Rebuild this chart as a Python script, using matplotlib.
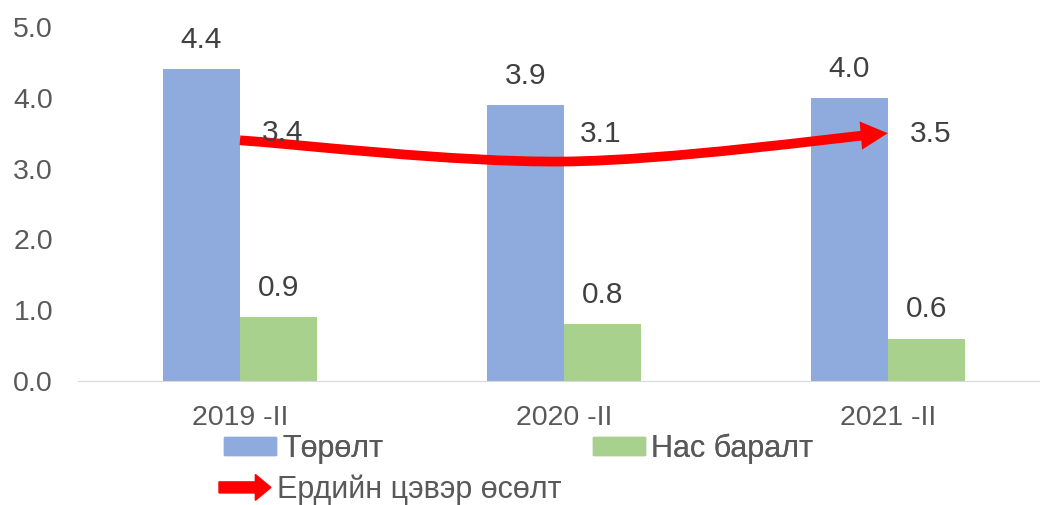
import numpy as np
import matplotlib.pyplot as plt
import matplotlib.patches as mpatches
from matplotlib.path import Path
from matplotlib.legend_handler import HandlerPatch

plt.rcParams['font.family'] = ['Liberation Sans', 'DejaVu Sans']

# Data -----------------------------------------------------------------
categories = ['2019 -II', '2020 -II', '2021 -II']
births = [4.4, 3.9, 4.0]
deaths = [0.9, 0.8, 0.6]
net_growth = [3.4, 3.1, 3.5]

lbl_births = 'Төрөлт'
lbl_deaths = 'Нас баралт'
lbl_growth = 'Ердийн цэвэр өсөлт'

c_blue = '#8FAADC'
c_green = '#A9D18E'
c_red = '#FF0000'
c_text = '#404040'
c_tick = '#595959'

fig = plt.figure(figsize=(10.4, 5.05), dpi=100)
ax = fig.add_axes([0.075, 0.2455, 0.925, 0.701])

x = np.arange(len(categories))
w = 0.238
b1 = ax.bar(x - w / 2, births, w, color=c_blue)
b2 = ax.bar(x + w / 2, deaths, w, color=c_green)
ax.bar_label(b1, fmt='%.1f', padding=11, fontsize=21.5, color=c_text)
ax.bar_label(b2, fmt='%.1f', padding=11, fontsize=21.5, color=c_text)

# smoothed line (Catmull-Rom -> cubic bezier) with arrow head
pts = np.column_stack([x, net_growth]).astype(float)
verts = [pts[0]]
codes = [Path.MOVETO]
for i in range(len(pts) - 1):
    p_prev = pts[max(i - 1, 0)]
    p_next2 = pts[min(i + 2, len(pts) - 1)]
    c1 = pts[i] + (pts[i + 1] - p_prev) / 6
    c2 = pts[i + 1] - (p_next2 - pts[i]) / 6
    verts += [c1, c2, pts[i + 1]]
    codes += [Path.CURVE4] * 3
arrow = mpatches.FancyArrowPatch(path=Path(verts, codes),
                                 arrowstyle='-|>,head_length=0.42,head_width=0.22',
                                 mutation_scale=20, lw=7, color=c_red,
                                 capstyle='butt', joinstyle='miter', zorder=3)
ax.add_patch(arrow)

# line labels (offsets in points)
offsets = [(16, 5.5), (11.5, 20), (16, -0.5)]
for xi, yi, off in zip(x, net_growth, offsets):
    ax.annotate(f'{yi:.1f}', (xi, yi), xytext=off, textcoords='offset points',
                ha='left', va='center', fontsize=21.5, color=c_text, zorder=4)

ax.set_xlim(-0.5, 2.47)
ax.set_ylim(0, 5)
ax.set_xticks(x)
ax.set_xticklabels(categories)
ax.set_yticks(np.arange(0, 5.1, 1))
ax.set_yticklabels([f'{v:.1f}' for v in np.arange(0, 5.1, 1)])
ax.tick_params(axis='y', length=0, pad=18, labelsize=20.5, labelcolor=c_tick)
ax.tick_params(axis='x', length=0, pad=17, labelsize=20.5, labelcolor=c_tick)
for s in ['top', 'right', 'left']:
    ax.spines[s].set_visible(False)
ax.spines['bottom'].set_color('#D9D9D9')


# legend ---------------------------------------------------------------
def make_arrow(legend, orig_handle, xdescent, ydescent, width, height, fontsize):
    return mpatches.FancyArrow(-xdescent, height / 2 - ydescent, width, 0,
                               width=height * 0.62, head_width=height * 1.45,
                               head_length=width * 0.3, length_includes_head=True)


h1 = mpatches.Patch(color=c_blue, label=lbl_births)
h2 = mpatches.Patch(color=c_green, label=lbl_deaths)
h3 = mpatches.Patch(color=c_red, label=lbl_growth)

leg_kw = dict(loc='center left', frameon=False, fontsize=22, borderpad=0,
              borderaxespad=0, handlelength=1.7, handleheight=0.52,
              handletextpad=0.2, labelcolor=c_tick)
legs = [
    fig.legend(handles=[h1], bbox_to_anchor=(224 / 1040, 1 - 449 / 505), **leg_kw),
    fig.legend(handles=[h2], bbox_to_anchor=(593 / 1040, 1 - 449 / 505), **leg_kw),
    fig.legend(handles=[h3], bbox_to_anchor=(219 / 1040, 1 - 490 / 505),
               handler_map={h3: HandlerPatch(patch_func=make_arrow)}, **leg_kw),
]
for lg in legs[:-1]:
    fig.add_artist(lg)

fig.savefig('out.png', dpi=100)
